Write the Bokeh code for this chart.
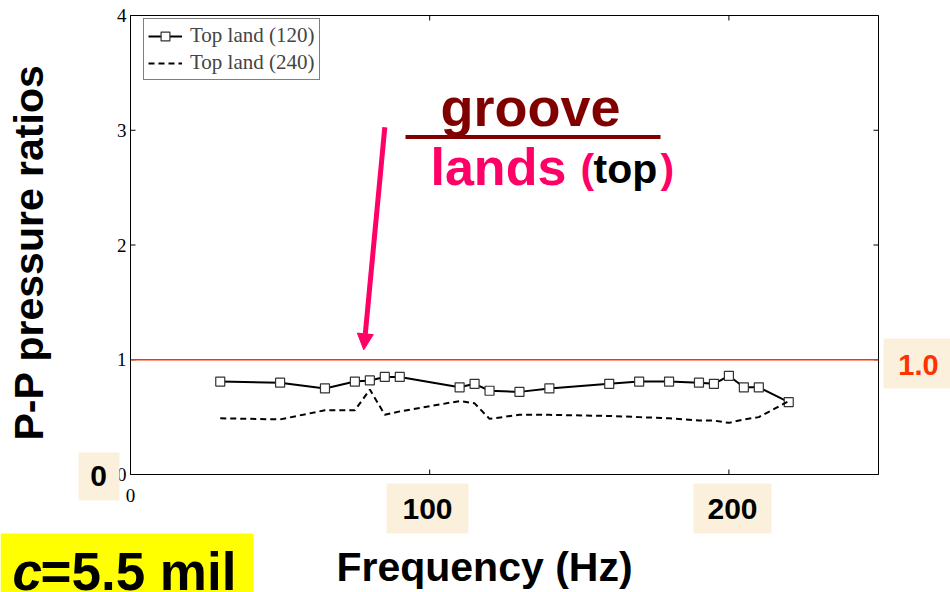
import math
from bokeh.plotting import figure
from bokeh.models import (Label, BoxAnnotation, Arrow, NormalHead, Legend, LegendItem, Range1d)
from bokeh.core.properties import value
from bokeh.embed import file_html
from bokeh.resources import INLINE

# ---------------- data ----------------
freq_120 = [30, 50, 65, 75, 80, 85, 90, 110, 115, 120, 130, 140, 160, 170, 180, 190, 195, 200, 205, 210, 220]
ratio_120 = [0.81, 0.80, 0.75, 0.81, 0.82, 0.85, 0.85, 0.76, 0.79, 0.73, 0.72, 0.75, 0.79, 0.81, 0.81, 0.80, 0.79, 0.86, 0.76, 0.76, 0.63]
freq_240 = [30, 50, 65, 75, 80, 85, 90, 110, 115, 120, 130, 140, 160, 170, 180, 190, 195, 200, 205, 210, 220]
ratio_240 = [0.49, 0.48, 0.56, 0.56, 0.74, 0.52, 0.55, 0.64, 0.62, 0.485, 0.52, 0.52, 0.51, 0.50, 0.49, 0.47, 0.47, 0.45, 0.48, 0.50, 0.64]
x_ticks = [0, 100, 200]
y_ticks = [0, 1, 2, 3, 4]
series_labels = ["Top land (120)", "Top land (240)"]
reference_level = 1.0

# ---------------- axes box geometry ----------------
W, H = 950, 592
X0, X1, Y0, Y1 = 0, 250, 0, 4          # data limits of the axes box
FL, FR, FT, FB = 130, 878, 15, 474     # axes box in canvas pixels
def px2x(px):
    return X0 + (px - FL) * (X1 - X0) / (FR - FL)
def px2y(py):
    return Y0 + (FB - py) * (Y1 - Y0) / (FB - FT)
DX = (X1 - X0) / (FR - FL)   # data per pixel
DY = (Y1 - Y0) / (FB - FT)

p = figure(width=W, height=H, x_range=Range1d(px2x(0), px2x(W)), y_range=Range1d(px2y(H), px2y(0)),
           output_backend="svg", toolbar_location=None, x_axis_location=None, y_axis_location=None,
           min_border=0, min_border_left=0, min_border_right=0, min_border_top=0, min_border_bottom=0)
p.background_fill_color = "white"
p.border_fill_color = "white"
p.outline_line_color = None
p.xgrid.visible = False
p.ygrid.visible = False

# ---------------- axes (box, inward ticks, tick labels) ----------------
TK = 5  # tick length px
nx = len(x_ticks)
ny = len(y_ticks)
p.segment(x0=x_ticks, y0=[Y0] * nx, x1=x_ticks, y1=[Y0 + TK * DY] * nx, line_color="black", line_width=1)
p.segment(x0=x_ticks, y0=[Y1] * nx, x1=x_ticks, y1=[Y1 - TK * DY] * nx, line_color="black", line_width=1)
p.segment(x0=[X0] * ny, y0=y_ticks, x1=[X0 + TK * DX] * ny, y1=y_ticks, line_color="black", line_width=1)
p.segment(x0=[X1] * ny, y0=y_ticks, x1=[X1 - TK * DX] * ny, y1=y_ticks, line_color="black", line_width=1)
p.text(x=x_ticks, y=[px2y(FB + 21)] * nx, text=[str(t) for t in x_ticks],
       text_font=value("Liberation Serif"), text_font_size=value("19px"),
       text_align="center", text_baseline="middle", text_color="black")
p.text(x=[px2x(FL - 4)] * ny, y=y_ticks, text=[str(t) for t in y_ticks],
       text_font=value("Liberation Serif"), text_font_size=value("19px"),
       text_align="right", text_baseline="middle", text_color="black")

# reference line at 1.0
p.segment(x0=[X0], y0=[reference_level], x1=[X1], y1=[reference_level], line_color="#FF3300", line_width=1.5)

# series
l1 = p.line(freq_120, ratio_120, line_color="black", line_width=2)
s1 = p.scatter(freq_120, ratio_120, marker="square", size=9, fill_color="white",
               line_color="#333333", line_width=1.2)
l2 = p.line(freq_240, ratio_240, line_color="black", line_width=2, line_dash="6 4")

# axes box outline
p.add_layout(BoxAnnotation(left=X0, right=X1, bottom=Y0, top=Y1, fill_alpha=0,
                           line_color="black", line_width=1, line_alpha=1))

legend = Legend(items=[LegendItem(label=series_labels[0], renderers=[l1, s1]),
                       LegendItem(label=series_labels[1], renderers=[l2])],
                location=(143, H - 80), margin=0, padding=4, spacing=2,
                label_height=22, glyph_height=22, glyph_width=34, label_standoff=8,
                label_text_font="Liberation Serif", label_text_font_size="21px",
                border_line_color="black", border_line_width=1, background_fill_alpha=1)
p.add_layout(legend)

# ---------------- annotations ----------------
BEIGE = "#FBF0DB"
def box(l, r, t, b, color):
    p.add_layout(BoxAnnotation(left=px2x(l), right=px2x(r), top=px2y(t), bottom=px2y(b),
                               fill_color=color, fill_alpha=1, line_alpha=0))

def label(txt, px, base_py, size, color="black", align="left", style="bold", angle=0.0, rot_x=False):
    # place by text baseline: centre of text sits ~0.35*size above the baseline
    if rot_x:
        x, y = px2x(px - 0.35 * size), px2y(base_py)
    else:
        x, y = px2x(px), px2y(base_py - 0.35 * size)
    p.add_layout(Label(x=x, y=y, text=txt, text_font="Liberation Sans",
                       text_font_size=f"{size}px", text_font_style=style, text_color=color,
                       text_align=align, text_baseline="middle", angle=angle))

# tick-label overlays
box(78, 119, 452, 500, BEIGE)
label("0", 98, 486, 30, align="center")
box(386, 468, 483, 533, BEIGE)
label("100", 427, 519, 30, align="center")
box(693, 771, 483, 533, BEIGE)
label("200", 732, 519, 30, align="center")
box(883, 950, 338, 388, BEIGE)
label("1.0", 918, 375, 29, color="#FF3300", align="center")

# axis titles
label("P-P pressure ratios", 43, 252, 41, align="center", angle=math.pi / 2, rot_x=True)
label("Frequency (Hz)", 484, 581, 41, align="center")

# c = 5.5 mil
box(0, 253, 533, 600, "#FFFF00")
label("c", 12, 590, 53, style="bold italic")
label("=5.5 mil", 40, 590, 53)

# groove / lands fraction
label("groove", 440, 125, 54, color="#800000")
box(405, 660, 134.5, 138.5, "#800000")
label("lands", 430, 185, 52, color="#FF0066")
label("(", 580, 183, 41, color="#FF0066")
label("top", 593, 183, 41, color="black")
label(")", 660, 183, 41, color="#FF0066")

# arrow
p.add_layout(Arrow(end=NormalHead(size=16, fill_color="#FF0066", line_color="#FF0066"),
                   x_start=px2x(384.3), y_start=px2y(126.7), x_end=px2x(363.3), y_end=px2y(349.3),
                   line_color="#FF0066", line_width=5))

open("out.html", "w").write(file_html(p, INLINE))
